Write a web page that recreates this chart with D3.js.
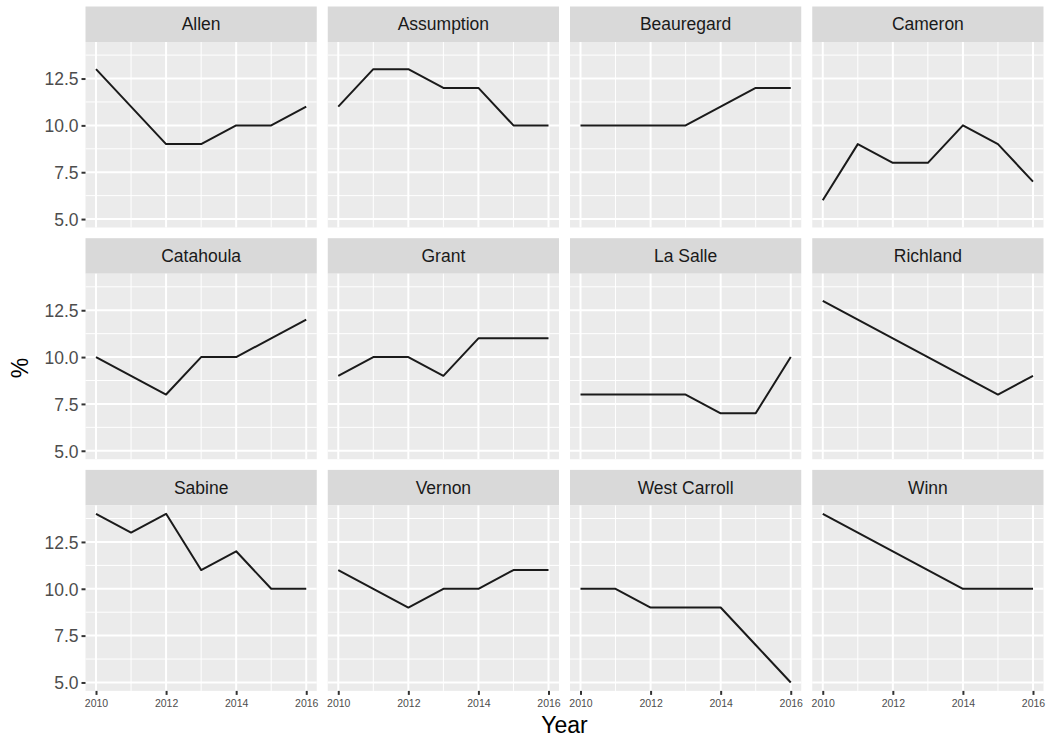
<!DOCTYPE html>
<html><head><meta charset="utf-8">
<script src="https://cdn.jsdelivr.net/npm/d3@7"></script>
<style>body{margin:0;background:#fff}svg{display:block;font-family:"Liberation Sans",Arial,sans-serif}</style>
</head><body>
<script>
const years = [2010, 2011, 2012, 2013, 2014, 2015, 2016];
const parishes = ["Allen","Assumption","Beauregard","Cameron","Catahoula","Grant","La Salle","Richland","Sabine","Vernon","West Carroll","Winn"];
const allen       = [13, 11, 9, 9, 10, 10, 11];
const assumption  = [11, 13, 13, 12, 12, 10, 10];
const beauregard  = [10, 10, 10, 10, 11, 12, 12];
const cameron     = [6, 9, 8, 8, 10, 9, 7];
const catahoula   = [10, 9, 8, 10, 10, 11, 12];
const grant       = [9, 10, 10, 9, 11, 11, 11];
const laSalle     = [8, 8, 8, 8, 7, 7, 10];
const richland    = [13, 12, 11, 10, 9, 8, 9];
const sabine      = [14, 13, 14, 11, 12, 10, 10];
const vernon      = [11, 10, 9, 10, 10, 11, 11];
const westCarroll = [10, 10, 9, 9, 9, 7, 5];
const winn        = [14, 13, 12, 11, 10, 10, 10];
const series = [allen, assumption, beauregard, cameron, catahoula, grant, laSalle, richland, sabine, vernon, westCarroll, winn];
const xTicks = [2010, 2012, 2014, 2016];
const xMinor = [2011, 2013, 2015];
const yTicks = [5, 7.5, 10, 12.5];
const yMinor = [6.25, 8.75, 11.25, 13.75];
const yTickLabels = ["5.0", "7.5", "10.0", "12.5"];

const W = 1049, H = 740;
const svg = d3.select("body").append("svg").attr("width", W).attr("height", H);

const left = 85.5, right = 1043.5, gap = 11, ncol = 4;
const pw = (right - left - gap * (ncol - 1)) / ncol;
const top0 = 6.5, pitch = 231.7, stripH = 35.5, ph = 185.5;

const yMin = 5, yMax = 14, yPad = (yMax - yMin) * 0.05;
const x = d3.scaleLinear().domain([2010 - 0.3, 2016 + 0.3]).range([0, pw]);
const y = d3.scaleLinear().domain([yMin - yPad, yMax + yPad]).range([ph, 0]);
const line = d3.line().x((d, i) => x(years[i])).y(d => y(d));

parishes.forEach((name, k) => {
  const col = k % ncol, row = Math.floor(k / ncol);
  const gx = left + col * (pw + gap);
  const gy = top0 + row * pitch;
  const g = svg.append("g").attr("transform", `translate(${gx},${gy})`);
  g.append("rect").attr("width", pw).attr("height", stripH).attr("fill", "#D9D9D9");
  g.append("text").attr("x", pw / 2).attr("y", stripH / 2 + 6).attr("text-anchor", "middle")
    .attr("font-size", 17.5).attr("fill", "#1A1A1A").text(name);
  const p = g.append("g").attr("transform", `translate(0,${stripH})`);
  p.append("rect").attr("width", pw).attr("height", ph).attr("fill", "#EBEBEB");
  p.selectAll(".ymin").data(yMinor).enter().append("line")
    .attr("x1", 0).attr("x2", pw).attr("y1", d => y(d)).attr("y2", d => y(d))
    .attr("stroke", "#fff").attr("stroke-width", 1);
  p.selectAll(".xmin").data(xMinor).enter().append("line")
    .attr("y1", 0).attr("y2", ph).attr("x1", d => x(d)).attr("x2", d => x(d))
    .attr("stroke", "#fff").attr("stroke-width", 1);
  p.selectAll(".ymaj").data(yTicks).enter().append("line")
    .attr("x1", 0).attr("x2", pw).attr("y1", d => y(d)).attr("y2", d => y(d))
    .attr("stroke", "#fff").attr("stroke-width", 2);
  p.selectAll(".xmaj").data(xTicks).enter().append("line")
    .attr("y1", 0).attr("y2", ph).attr("x1", d => x(d)).attr("x2", d => x(d))
    .attr("stroke", "#fff").attr("stroke-width", 2);
  p.append("path").datum(series[k]).attr("d", line).attr("fill", "none")
    .attr("stroke", "#1A1A1A").attr("stroke-width", 2).attr("stroke-linejoin", "round");

  if (col === 0) {
    const ax = p.append("g").call(d3.axisLeft(y).tickValues(yTicks).tickFormat((d, i) => yTickLabels[i]).tickSize(4).tickPadding(3));
    ax.select(".domain").remove();
    ax.selectAll("line").attr("stroke", "#333").attr("stroke-width", 2);
    ax.selectAll("text").attr("font-size", 17.5).attr("fill", "#4D4D4D").attr("font-family", "Liberation Sans, Arial, sans-serif").attr("dy", "0.36em");
  }
  if (row === 2) {
    const ax = p.append("g").attr("transform", `translate(0,${ph})`)
      .call(d3.axisBottom(x).tickValues(xTicks).tickFormat(d3.format("d")).tickSize(4).tickPadding(5));
    ax.select(".domain").remove();
    ax.selectAll("line").attr("stroke", "#333").attr("stroke-width", 2);
    ax.selectAll("text").attr("font-size", 10.5).attr("fill", "#4D4D4D").attr("font-family", "Liberation Sans, Arial, sans-serif");
  }
});

svg.append("text").attr("x", (left + right) / 2).attr("y", 733).attr("text-anchor", "middle")
  .attr("font-size", 23).attr("fill", "#000").text("Year");
const plotTop = top0 + stripH, plotBot = top0 + 2 * pitch + stripH + ph;
svg.append("text").attr("transform", `translate(28,${(plotTop + plotBot) / 2 + 1.5}) rotate(-90)`)
  .attr("text-anchor", "middle").attr("font-size", 23).attr("fill", "#000").text("%");
</script>
</body></html>
